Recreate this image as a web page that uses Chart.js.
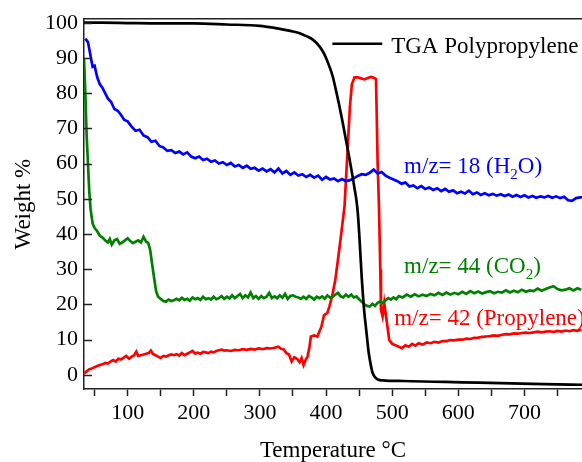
<!DOCTYPE html>
<html>
<head>
<meta charset="utf-8">
<script src="https://cdn.jsdelivr.net/npm/chart.js@4.4.0/dist/chart.umd.min.js"></script>
<style>
  body { margin: 0; background: #fff; }
  #wrap { width: 582px; height: 462px; }
</style>
</head>
<body>
<div id="wrap"><canvas id="chart" width="582" height="462"></canvas></div>
<script>
// axis ticks
const xTicks = [50, 100, 150, 200, 250, 300, 350, 400, 450, 500, 550, 600, 650, 700, 750];
const yTicks = [0, 5, 10, 15, 20, 25, 30, 35, 40, 45, 50, 55, 60, 65, 70, 75, 80, 85, 90, 95, 100];

// TGA curve
const tgaTemp = [
  34, 60, 100, 150, 200, 250, 300, 320, 340, 350,
  360, 370, 380, 390, 395, 400, 405, 410, 415, 420,
  425, 430, 435, 440, 443, 446, 448, 450, 452, 454,
  456, 458, 460, 462, 464, 466, 468, 470, 473, 476,
  480, 490, 510, 530, 580, 630, 680, 730, 790
];
const tgaWeight = [
  100.0, 100.0, 99.9, 99.8, 99.8, 99.5, 99.1, 98.6, 97.9, 97.5,
  97.0, 96.2, 95.2, 93.3, 91.9, 90.0, 87.6, 84.8, 80.8, 76.5,
  71.8, 66.8, 61.8, 56.5, 53.0, 49.5, 46.0, 40.5, 34.0, 27.5,
  22.0, 17.5, 14.0, 10.5, 7.0, 4.5, 2.5, 0.8, -0.4, -1.0,
  -1.4, -1.6, -1.7, -1.8, -2.0, -2.2, -2.4, -2.6, -2.8
];

// m/z = 18
const h2oTemp = [
  36, 40, 44, 47, 50, 54, 58, 62, 66, 70,
  75, 80, 85, 90, 95, 100, 106, 112, 118, 124,
  130, 136, 142, 148, 154, 160, 166, 172, 178, 184,
  190, 196, 202, 208, 214, 220, 226, 232, 238, 244,
  250, 256, 262, 268, 274, 280, 286, 292, 298, 304,
  310, 316, 322, 328, 334, 340, 346, 352, 358, 364,
  370, 376, 382, 388, 394, 400, 406, 412, 418, 424,
  430, 436, 442, 448, 454, 460, 466, 472, 478, 484,
  490, 496, 502, 508, 514, 520, 526, 532, 538, 544,
  550, 556, 562, 568, 574, 580, 586, 592, 598, 604,
  610, 616, 622, 628, 634, 640, 646, 652, 658, 664,
  670, 676, 682, 688, 694, 700, 706, 712, 718, 724,
  730, 736, 742, 748, 754, 760, 766, 772, 778, 784, 790
];
const h2oValue = [
  95.5, 94.5, 90.5, 87.5, 87.8, 84.5, 82.5, 81.5, 80.0, 78.5,
  77.5, 75.5, 75.0, 73.8, 72.4, 72.0, 70.5, 69.3, 69.6, 68.0,
  67.5, 66.2, 66.5, 65.0, 64.6, 63.6, 63.8, 63.0, 63.4, 62.6,
  63.2, 62.0, 61.5, 62.0, 61.0, 61.4, 60.5, 60.9, 60.0, 60.4,
  59.6, 60.2, 59.2, 59.6, 58.8, 59.4, 58.5, 58.8, 58.0, 58.6,
  57.8, 58.4, 57.5, 58.6, 57.2, 57.9, 56.8, 57.5, 56.6, 57.0,
  56.2, 56.8, 56.0, 56.6, 55.4, 56.2, 55.5, 55.8, 55.0, 55.6,
  55.0, 55.3, 55.8, 56.5, 57.0, 56.8, 57.4, 58.3, 57.2, 57.6,
  56.6, 56.0, 55.5, 55.0, 54.3, 54.6, 53.5, 53.8, 53.0, 53.6,
  52.8, 53.2, 52.5, 53.0, 52.2, 52.8, 52.0, 52.4, 51.6, 52.0,
  51.5, 52.3, 51.3, 51.8, 51.1, 51.6, 51.0, 51.4, 50.9, 51.3,
  50.8, 51.2, 50.6, 51.1, 50.5, 51.0, 50.4, 50.8, 50.3, 50.7,
  50.4, 50.8, 50.3, 50.7, 50.2, 50.6, 49.6, 49.4, 50.2, 50.4, 50.5
];

// m/z = 44
const co2Temp = [
  34, 36, 38, 40, 42, 44, 47, 50, 54, 58,
  62, 66, 70, 73, 76, 80, 84, 88, 92, 96,
  100, 104, 108, 112, 116, 120, 124, 128, 131, 134,
  137, 140, 143, 146, 150, 154, 158, 162, 166, 170,
  174, 178, 182, 186, 190, 194, 198, 202, 206, 210,
  214, 218, 222, 226, 230, 234, 238, 242, 246, 250,
  254, 258, 262, 266, 270, 274, 278, 282, 286, 290,
  294, 298, 302, 306, 310, 314, 318, 322, 326, 330,
  334, 338, 342, 346, 350, 354, 358, 362, 366, 370,
  374, 378, 382, 386, 390, 394, 398, 402, 406, 410,
  414, 418, 422, 426, 430, 434, 438, 442, 446, 450,
  454, 458, 462, 466, 470, 474, 478, 482, 486, 490,
  494, 498, 502, 506, 510, 516, 522, 528, 534, 540,
  546, 552, 558, 564, 570, 576, 582, 588, 594, 600,
  606, 612, 618, 624, 630, 636, 642, 648, 654, 660,
  666, 672, 678, 684, 690, 696, 702, 708, 714, 720,
  726, 732, 738, 744, 750, 756, 762, 768, 774, 780, 786
];
const co2Value = [
  90, 80, 68, 60, 52, 47, 43, 41.7, 40.8, 39.5,
  39.0, 38.2, 37.6, 38.6, 37.0, 38.2, 38.6, 37.2, 37.6, 38.2,
  38.8, 38.0, 37.4, 37.8, 38.2, 37.6, 39.2, 37.8, 37.5, 35.5,
  31.5, 27.5, 23.8, 22.2, 21.6, 21.0, 20.8, 21.4, 21.0, 21.2,
  21.6, 21.2, 21.9, 21.3, 21.6, 21.1, 22.0, 21.5, 21.8, 21.3,
  22.2, 21.5, 21.8, 21.4, 22.2, 21.5, 21.8, 22.4, 21.6, 22.2,
  21.7, 22.6, 21.8, 22.4, 23.0, 21.8, 22.6, 22.0, 23.4, 21.8,
  22.4, 21.6, 22.4, 21.8, 22.2, 23.3, 21.8, 22.3, 21.8, 22.6,
  21.9, 23.0, 21.6, 22.4, 22.6, 22.2, 22.0, 21.6, 22.2, 21.6,
  22.4, 22.0, 21.4, 22.2, 21.8, 22.3, 21.6, 22.6, 22.0, 22.2,
  22.8, 23.3, 22.3, 22.0, 22.8, 22.2, 22.8, 22.0, 22.3, 21.5,
  20.8, 20.0, 19.6, 19.4, 20.2, 19.6, 20.5, 20.9, 20.4, 21.2,
  21.8, 21.4, 22.0, 21.5, 22.4, 22.0, 22.8, 22.2, 22.9, 22.3,
  22.8, 22.4, 23.0, 22.6, 23.3, 22.7, 23.4, 22.8, 23.3, 22.9,
  23.6, 23.0, 23.8, 23.2, 23.7, 23.1, 23.5, 23.8, 23.2, 23.6,
  23.4, 24.0, 23.4, 23.9, 23.5, 24.2, 23.6, 24.0, 23.8, 24.5,
  23.9, 24.4, 24.8, 25.2, 24.4, 24.0, 24.2, 24.6, 24.0, 24.6, 24.2
];

// m/z = 42
const c3Temp = [
  34, 38, 42, 46, 50, 54, 58, 62, 66, 70,
  74, 78, 82, 86, 90, 94, 98, 102, 106, 110,
  113, 116, 120, 124, 128, 132, 135, 138, 142, 146,
  150, 154, 158, 162, 166, 170, 174, 178, 182, 186,
  190, 194, 198, 202, 206, 210, 214, 218, 222, 226,
  230, 234, 238, 242, 246, 250, 256, 262, 268, 274,
  280, 286, 292, 298, 304, 310, 316, 322, 328, 332,
  336, 340, 344, 348, 352, 356, 360, 363, 366, 369,
  372, 375, 377, 382, 387, 390, 393, 397, 402, 405,
  408, 410, 414, 418, 423, 428, 432, 436, 439, 443,
  448, 453, 458, 463, 468, 473, 475.5, 476.5, 478, 480,
  482, 483, 485.5, 488, 491.5, 495.5, 500, 505, 510, 515,
  520, 525, 530, 535, 540, 546, 552, 558, 564, 570,
  576, 582, 588, 594, 600, 606, 612, 618, 624, 630,
  636, 642, 648, 654, 660, 666, 672, 678, 684, 690,
  696, 702, 708, 714, 720, 726, 732, 738, 744, 750,
  756, 762, 768, 774, 780, 786
];
const c3Value = [
  0.4, 1.0, 1.6, 1.8, 2.2, 2.5, 2.8, 3.0, 3.4, 3.2,
  3.8, 4.2, 3.8, 4.6, 4.4, 4.9, 5.4, 4.6, 5.2, 5.6,
  6.6, 5.4, 5.6, 5.8, 6.0, 6.2, 6.9, 6.0, 5.6, 5.2,
  4.8, 5.4, 5.2, 5.6, 5.8, 5.6, 5.9, 5.5, 6.2, 5.6,
  6.0, 6.4, 6.8, 6.1, 6.3, 6.0, 6.5, 6.4, 6.2, 6.6,
  6.4, 6.8, 7.0, 7.2, 6.9, 7.0, 6.8, 7.1, 7.0, 7.3,
  7.1, 7.4, 7.2, 7.5, 7.3, 7.6, 7.5, 7.7, 8.0, 7.4,
  7.2, 6.2, 5.8, 3.8, 5.0, 4.6, 3.6, 4.8, 2.8, 4.2,
  5.2, 8.0, 10.9, 11.2, 10.9, 12.4, 13.7, 17.0, 17.6, 19.4,
  21.5, 23.2, 27.0, 32.7, 40.2, 48.0, 62.0, 76.0, 82.5, 84.5,
  84.5, 84.2, 83.9, 84.3, 84.6, 84.3, 84.0, 75, 60, 48,
  30, 18.5, 16.6, 20.4, 15.6, 9.9, 8.8, 8.4, 8.0, 7.6,
  8.4, 8.0, 8.8, 8.3, 9.0, 8.6, 9.2, 9.0, 9.4, 9.2,
  9.6, 9.6, 9.9, 9.8, 10.0, 10.0, 10.3, 10.2, 10.5, 10.6,
  10.8, 10.9, 11.0, 11.2, 11.1, 11.4, 11.6, 11.5, 11.8, 11.7,
  11.9, 12.0, 11.9, 12.1, 12.3, 12.1, 12.3, 12.4, 12.2, 12.5,
  12.3, 12.6, 12.4, 12.7, 12.5, 12.9
];

const BLUE = '#0000ff';
const GREEN = '#008000';
const RED = '#ff0000';
const AXIS = '#222222';
const FONT = 'Liberation Serif, Times New Roman, serif';

function pts(xs, ys) {
    return xs.map((x, i) => ({ x: x, y: ys[i] }));
}

// text next to the curves, placed in data units
const curveLabels = [
    { x: 518, y: 57.4, color: BLUE, parts: [['m/z= 18 (H'], ['2', 1], ['O)']] },
    { x: 518, y: 29.0, color: GREEN, parts: [['m/z= 44 (CO'], ['2', 1], [')']] },
    { x: 503, y: 14.2, color: RED, parts: [['m/z= 42 (Propylene)']] },
];

const labelPlugin = {
    id: 'labels',
    afterDraw(chart) {
        const ctx = chart.ctx;
        const xs = chart.scales.x;
        const ys = chart.scales.y;
        const area = chart.chartArea;
        ctx.save();

        // inward ticks on the y axis
        ctx.strokeStyle = AXIS;
        ctx.lineWidth = 1.5;
        ys.ticks.forEach(t => {
            const py = Math.round(ys.getPixelForValue(t.value)) + 0.5;
            const len = t.value % 10 === 0 ? 8 : 5;
            ctx.beginPath();
            ctx.moveTo(area.left, py);
            ctx.lineTo(area.left + len, py);
            ctx.stroke();
        });

        // legend
        const lx1 = xs.getPixelForValue(409.5);
        const lx2 = xs.getPixelForValue(485);
        const ly = ys.getPixelForValue(94);
        ctx.strokeStyle = '#000';
        ctx.lineWidth = 2.5;
        ctx.beginPath();
        ctx.moveTo(lx1, ly);
        ctx.lineTo(lx2, ly);
        ctx.stroke();
        ctx.fillStyle = '#000';
        ctx.font = '23px ' + FONT;
        ctx.textBaseline = 'alphabetic';
        ctx.fillText('TGA Polypropylene', xs.getPixelForValue(498.5), ys.getPixelForValue(91.5));

        curveLabels.forEach(l => {
            let px = xs.getPixelForValue(l.x);
            const py = ys.getPixelForValue(l.y);
            ctx.fillStyle = l.color;
            l.parts.forEach(p => {
                if (p[1]) {
                    ctx.font = '15px ' + FONT;
                    ctx.fillText(p[0], px, py + 6);
                } else {
                    ctx.font = '23px ' + FONT;
                    ctx.fillText(p[0], px, py);
                }
                px += ctx.measureText(p[0]).width;
            });
        });
        ctx.restore();
    }
};

const config = {
    type: 'line',
    data: {
        datasets: [
            {
                label: 'TGA Polypropylene',
                data: pts(tgaTemp, tgaWeight),
                borderColor: '#000',
                borderWidth: 2.7,
                cubicInterpolationMode: 'monotone',
            },
            {
                label: 'm/z= 18 (H2O)',
                data: pts(h2oTemp, h2oValue),
                borderColor: BLUE,
                borderWidth: 2.7,
            },
            {
                label: 'm/z= 44 (CO2)',
                data: pts(co2Temp, co2Value),
                borderColor: GREEN,
                borderWidth: 2.7,
            },
            {
                label: 'm/z= 42 (Propylene)',
                data: pts(c3Temp, c3Value),
                borderColor: RED,
                borderWidth: 2.7,
            },
        ]
    },
    options: {
        responsive: false,
        animation: false,
        layout: { padding: 0 },
        elements: {
            point: { radius: 0 },
            line: { tension: 0, fill: false }
        },
        plugins: {
            legend: { display: false },
            tooltip: { enabled: false },
        },
        scales: {
            x: {
                type: 'linear',
                position: 'bottom',
                min: 34,
                max: 787,
                afterBuildTicks: s => { s.ticks = xTicks.map(v => ({ value: v })); },
                afterFit: s => { s.height = 73; },
                ticks: {
                    autoSkip: false,
                    maxRotation: 0,
                    padding: 4,
                    color: '#000',
                    font: { family: FONT, size: 22 },
                    callback: v => (v % 100 === 0 ? String(v) : ''),
                },
                grid: {
                    drawOnChartArea: false,
                    tickLength: 7,
                    tickColor: AXIS,
                    tickWidth: 1.5,
                },
                border: { color: AXIS, width: 1.5 },
                title: {
                    display: true,
                    text: 'Temperature °C',
                    color: '#000',
                    font: { family: FONT, size: 23 },
                    padding: { top: 0, bottom: -3 },
                },
            },
            top: {
                type: 'linear',
                position: 'top',
                min: 34,
                max: 787,
                afterFit: s => { s.height = 19; },
                ticks: { display: false },
                grid: { display: false },
                border: { color: AXIS, width: 1.5 },
            },
            y: {
                type: 'linear',
                min: -4,
                max: 101,
                afterBuildTicks: s => { s.ticks = yTicks.map(v => ({ value: v })); },
                afterFit: s => { s.width = 84; },
                ticks: {
                    padding: 6,
                    color: '#000',
                    font: { family: FONT, size: 22 },
                    callback: v => (v % 10 === 0 ? String(v) : ''),
                },
                grid: { drawOnChartArea: false, drawTicks: false },
                border: { color: AXIS, width: 1.5 },
                title: {
                    display: true,
                    text: 'Weight %',
                    color: '#000',
                    font: { family: FONT, size: 23 },
                    padding: { top: 10, bottom: 0 },
                },
            },
        },
    },
    plugins: [labelPlugin],
};

new Chart(document.getElementById('chart').getContext('2d'), config);
</script>
</body>
</html>
